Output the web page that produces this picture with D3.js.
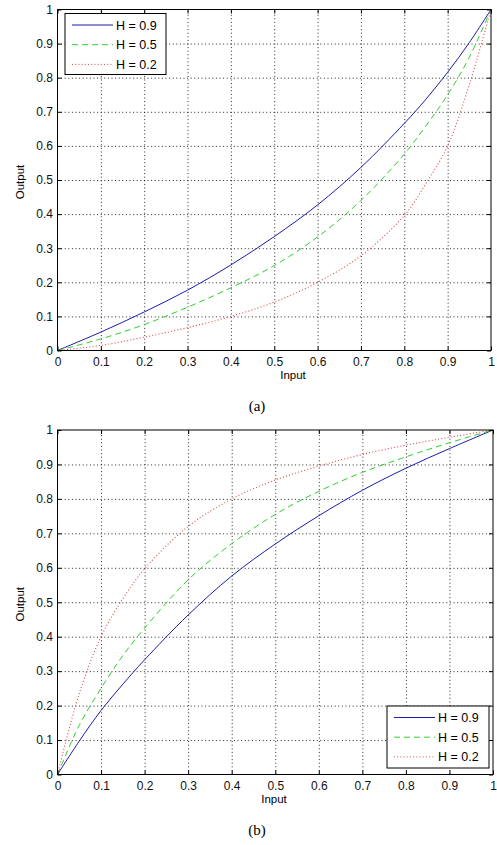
<!DOCTYPE html>
<html>
<head>
<meta charset="utf-8">
<script src="https://cdn.jsdelivr.net/npm/d3@7"></script>
<style>
  body { margin: 0; background: #fff; }
  svg { display: block; font-family: "Liberation Sans", Arial, sans-serif; }
  .grid line { stroke: #000; stroke-dasharray: 1,2.6; stroke-width: 1; opacity: 0.85; }
  .grid path { display: none; }
  .ax path { display: none; }
  .ax line { stroke: #000; }
  .ax text { font-size: 12px; fill: #111; }
</style>
</head>
<body>
<div class="wrapper"></div>
<script>
// ---- data ----
var series_names = ["H = 0.9", "H = 0.5", "H = 0.2"];
var tick_values = [0, 0.1, 0.2, 0.3, 0.4, 0.5, 0.6, 0.7, 0.8, 0.9, 1];

// (a)
var input_a = [0, 0.1, 0.2, 0.3, 0.4, 0.5, 0.6, 0.7, 0.8, 0.85, 0.9, 0.95, 1];
var h09_a = [0, 0.054, 0.113, 0.177, 0.251, 0.334, 0.427, 0.537, 0.666, 0.737, 0.816, 0.903, 1];
var h05_a = [0, 0.034, 0.076, 0.127, 0.184, 0.249, 0.333, 0.44, 0.576, 0.659, 0.75, 0.86, 1];
var h02_a = [0, 0.015, 0.039, 0.067, 0.1, 0.142, 0.2, 0.278, 0.396, 0.49, 0.6, 0.78, 1];

// (b)
var input_b = [0, 0.05, 0.1, 0.15, 0.2, 0.3, 0.4, 0.5, 0.6, 0.7, 0.8, 0.9, 1];
var h09_b = [0, 0.097, 0.186, 0.262, 0.333, 0.463, 0.576, 0.669, 0.751, 0.825, 0.889, 0.946, 1];
var h05_b = [0, 0.143, 0.25, 0.345, 0.425, 0.565, 0.67, 0.755, 0.822, 0.877, 0.922, 0.963, 1];
var h02_b = [0, 0.235, 0.4, 0.51, 0.597, 0.72, 0.8, 0.855, 0.895, 0.929, 0.956, 0.979, 1];

var colors = ["#1c1ca8", "#2fd02f", "#e04848"];
var dashes = [null, "6,4", "1,2.2"];

var W = 497, H = 845;

svg = d3.select(".wrapper").append("svg")
  .attr("width", W).attr("height", H);

function draw_panel(box, input, ys, legend_pos, caption, xlab_x) {
  var x = d3.scaleLinear().domain([0, 1]).range([box.left, box.right]);
  var y = d3.scaleLinear().domain([0, 1]).range([box.bottom, box.top]);
  var w = box.right - box.left, h = box.bottom - box.top;

  var g = svg.append("g").attr("class", "panel");

  // grid
  g.append("g").attr("class", "grid")
    .attr("transform", "translate(0," + box.bottom + ")")
    .call(d3.axisBottom(x).tickValues(tick_values.slice(1, -1)).tickSize(-h).tickFormat(""));
  g.append("g").attr("class", "grid")
    .attr("transform", "translate(" + box.left + ",0)")
    .call(d3.axisLeft(y).tickValues(tick_values.slice(1, -1)).tickSize(-w).tickFormat(""));

  // curves
  var line = d3.line().curve(d3.curveCatmullRom.alpha(0.5))
    .x(function (d) { return x(d[0]); })
    .y(function (d) { return y(d[1]); });
  ys.forEach(function (vals, k) {
    g.append("path")
      .datum(input.map(function (v, i) { return [v, vals[i]]; }))
      .attr("fill", "none")
      .attr("stroke", colors[k])
      .attr("stroke-width", k == 2 ? 1.1 : 1)
      .attr("stroke-dasharray", dashes[k])
      .attr("d", line);
  });

  // axes, ticks pointing inwards like matlab
  g.append("g").attr("class", "ax")
    .attr("transform", "translate(0," + box.bottom + ")")
    .call(d3.axisBottom(x).tickValues(tick_values).tickSizeInner(-4).tickSizeOuter(0)
      .tickPadding(6.5).tickFormat(d3.format("~g")));
  g.append("g").attr("class", "ax")
    .attr("transform", "translate(" + box.left + ",0)")
    .call(d3.axisLeft(y).tickValues(tick_values).tickSizeInner(-4).tickSizeOuter(0)
      .tickPadding(4.5).tickFormat(d3.format("~g")));
  g.append("g").attr("class", "ax")
    .attr("transform", "translate(0," + box.top + ")")
    .call(d3.axisTop(x).tickValues(tick_values).tickSizeInner(-4).tickSizeOuter(0).tickFormat(""));
  g.append("g").attr("class", "ax")
    .attr("transform", "translate(" + box.right + ",0)")
    .call(d3.axisRight(y).tickValues(tick_values).tickSizeInner(-4).tickSizeOuter(0).tickFormat(""));

  g.append("rect")
    .attr("x", box.left).attr("y", box.top)
    .attr("width", w).attr("height", h)
    .attr("fill", "none").attr("stroke", "#000").attr("stroke-width", 1);

  // axis labels
  g.append("text")
    .attr("x", xlab_x).attr("y", box.bottom + 28)
    .attr("text-anchor", "middle")
    .style("font-size", "11.5px")
    .text("Input");
  g.append("text")
    .attr("transform", "translate(24," + ((box.top + box.bottom) / 2 + 2) + ") rotate(-90)")
    .attr("text-anchor", "middle")
    .style("font-size", "11.5px")
    .text("Output");

  // legend
  var lg = g.append("g").attr("transform", "translate(" + legend_pos.x + "," + legend_pos.y + ")");
  lg.append("rect")
    .attr("width", legend_pos.w).attr("height", legend_pos.h)
    .attr("fill", "#fff").attr("stroke", "#000").attr("stroke-width", 1);
  series_names.forEach(function (name, k) {
    var ry = 11.5 + k * 19.7;
    lg.append("line")
      .attr("x1", 7).attr("x2", 48).attr("y1", ry).attr("y2", ry)
      .attr("stroke", colors[k]).attr("stroke-width", 1)
      .attr("stroke-dasharray", dashes[k]);
    lg.append("text")
      .attr("x", 51).attr("y", ry).attr("dy", "0.36em")
      .style("font-size", "12.5px")
      .text(name);
  });

  // caption
  g.append("text")
    .attr("x", 257).attr("y", box.bottom + 60)
    .attr("text-anchor", "middle")
    .style("font-family", "'Liberation Serif', 'Times New Roman', serif")
    .style("font-size", "15px")
    .text(caption);
}

draw_panel({ left: 57.5, right: 491, top: 9.5, bottom: 350.5 },
  input_a, [h09_a, h05_a, h02_a],
  { x: 65, y: 13.5, w: 101, h: 61 }, "(a)", 293);

draw_panel({ left: 57.5, right: 493, top: 430, bottom: 774.5 },
  input_b, [h09_b, h05_b, h02_b],
  { x: 387, y: 706, w: 102, h: 62 }, "(b)", 274);
</script>
</body>
</html>
